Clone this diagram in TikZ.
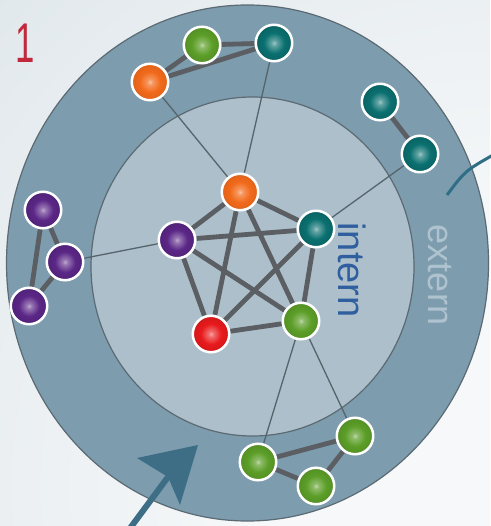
\documentclass[tikz,border=0pt]{standalone}
\usepackage{fontspec}
\newfontfamily\lab{Liberation Sans}
\definecolor{bgA}{HTML}{C8D5DC}
\definecolor{bgW}{HTML}{F6F8F9}
\definecolor{ringc}{HTML}{7D9CAE}
\definecolor{discc}{HTML}{ACBFCA}
\definecolor{edgec}{HTML}{5B6A73}
\definecolor{thickc}{HTML}{5B5F63}
\definecolor{thinc}{HTML}{56646C}
\definecolor{arrowc}{HTML}{3D6E86}
\definecolor{arcc}{HTML}{2F6F85}
\definecolor{onec}{HTML}{C2273B}
\definecolor{internc}{HTML}{2F5F9E}
\definecolor{externc}{HTML}{AEC3CF}
\definecolor{orange}{HTML}{F26A1B}
\definecolor{green}{HTML}{5C9E28}
\definecolor{teal}{HTML}{0B7070}
\definecolor{violet}{HTML}{5B2787}
\definecolor{red}{HTML}{E81A1C}
\pgfdeclareradialshading{bgshade}{\pgfpoint{0bp}{0bp}}{color(0bp)=(bgW); color(5bp)=(bgW); color(25bp)=(bgA); color(50bp)=(bgA)}
\pgfdeclareradialshading{ballorange}{\pgfpoint{0bp}{0bp}}{color(0bp)=(white!60!orange); color(4bp)=(orange!70!white); color(14bp)=(orange); color(28bp)=(orange!90!black); color(50bp)=(orange!90!black)}
\pgfdeclareradialshading{ballgreen}{\pgfpoint{0bp}{0bp}}{color(0bp)=(white!60!green); color(4bp)=(green!70!white); color(14bp)=(green); color(28bp)=(green!88!black); color(50bp)=(green!88!black)}
\pgfdeclareradialshading{ballteal}{\pgfpoint{0bp}{0bp}}{color(0bp)=(white!60!teal); color(4bp)=(teal!65!white); color(14bp)=(teal); color(28bp)=(teal!85!black); color(50bp)=(teal!85!black)}
\pgfdeclareradialshading{ballpurple}{\pgfpoint{0bp}{0bp}}{color(0bp)=(white!60!violet); color(4bp)=(violet!65!white); color(14bp)=(violet); color(28bp)=(violet!85!black); color(50bp)=(violet!85!black)}
\pgfdeclareradialshading{ballred}{\pgfpoint{0bp}{0bp}}{color(0bp)=(white!60!red); color(4bp)=(red!65!white); color(14bp)=(red); color(28bp)=(red!88!black); color(50bp)=(red!88!black)}
\pgfdeclarelayer{back}
\pgfdeclarelayer{mid}
\pgfsetlayers{back,mid,main}
\tikzset{
  ball/.style={circle, minimum size=36.5pt, inner sep=0pt, draw=white, line width=2.5pt},
  bO/.style={ball, shading=ballorange},
  bG/.style={ball, shading=ballgreen},
  bT/.style={ball, shading=ballteal},
  bP/.style={ball, shading=ballpurple},
  bR/.style={ball, shading=ballred},
  thick link/.style={draw=thickc, line width=4.8pt},
  thin link/.style={draw=thinc, line width=1.3pt},
  bigtext/.style={inner sep=0pt, font=\lab}
}
\begin{document}
\begin{tikzpicture}[x=1pt,y=1pt]
\useasboundingbox (0,0) rectangle (490,-526);
\begin{pgfonlayer}{back}
\begin{scope}
\clip (0,0) rectangle (490,-526);
\fill[bgA] (0,0) rectangle (490,-526);
\shade[shading=bgshade] (505,-485) circle (1250pt);
\filldraw[fill=ringc, draw=edgec, line width=1.2pt] (247.5,-263) ellipse [x radius=241pt, y radius=258pt];
\filldraw[fill=discc, draw=edgec, line width=1.2pt] (252.5,-266.5) ellipse [x radius=161.5pt, y radius=169.5pt];
\end{scope}
\end{pgfonlayer}
% outer nodes
\node[bO] (oo) at (150,-82) {};
\node[bG] (og) at (202,-45) {};
\node[bT] (ot) at (274,-43) {};
\node[bT] (ta) at (380,-102) {};
\node[bT] (tb) at (420,-154) {};
\node[bP] (pa) at (43,-210) {};
\node[bP] (pb) at (65,-262) {};
\node[bP] (pc) at (29,-306) {};
\node[bG] (ga) at (258,-462) {};
\node[bG] (gb) at (316,-486) {};
\node[bG] (gc) at (355,-436) {};
% inner nodes
\node[bO] (io) at (240,-192) {};
\node[bT] (it) at (316,-229) {};
\node[bP] (ip) at (177,-240) {};
\node[bR] (ir) at (211,-334) {};
\node[bG] (ig) at (301,-321) {};
\begin{pgfonlayer}{mid}
\path[thin link] (io) -- (oo) (io) -- (ot) (it) -- (tb) (ip) -- (pb) (ig) -- (ga) (ig) -- (gc);
\path[thick link] (oo) -- (og) (og) -- (ot) (oo) -- (ot) (ta) -- (tb)
  (pa) -- (pb) (pb) -- (pc) (pa) -- (pc)
  (ga) -- (gb) (gb) -- (gc) (ga) -- (gc)
  (io) -- (it) (io) -- (ip) (io) -- (ir) (io) -- (ig)
  (it) -- (ip) (it) -- (ir) (it) -- (ig)
  (ip) -- (ir) (ip) -- (ig) (ir) -- (ig);
\end{pgfonlayer}
% texts
\node[bigtext, text=onec, font=\lab\fontsize{56}{56}\selectfont, anchor=base west, xscale=0.62] (one) at (15,-63) {1};
\node[bigtext, text=internc, font=\lab\fontsize{38}{38}\selectfont, anchor=base, rotate=-90] (intern) at (338,-270) {intern};
\node[bigtext, text=externc, font=\lab\fontsize{36}{36}\selectfont, anchor=base, rotate=-90] (extern) at (428,-275) {extern};
% arrows
\coordinate (arcA) at (447,-195);
\coordinate (arcB) at (493,-155);
\draw[arcc, line width=3pt] (arcA) .. controls (465,-171) .. (arcB);
\coordinate (shaftA) at (128,-531);
\coordinate (notch) at (168,-477);
\coordinate (tip) at (198,-445);
\coordinate (wingA) at (137,-458);
\coordinate (wingB) at (180,-505);
\draw[arrowc, line width=6pt] (shaftA) -- (notch);
\fill[arrowc] (tip) -- (wingA) -- (notch) -- (wingB) -- cycle;
\end{tikzpicture}
\end{document}
